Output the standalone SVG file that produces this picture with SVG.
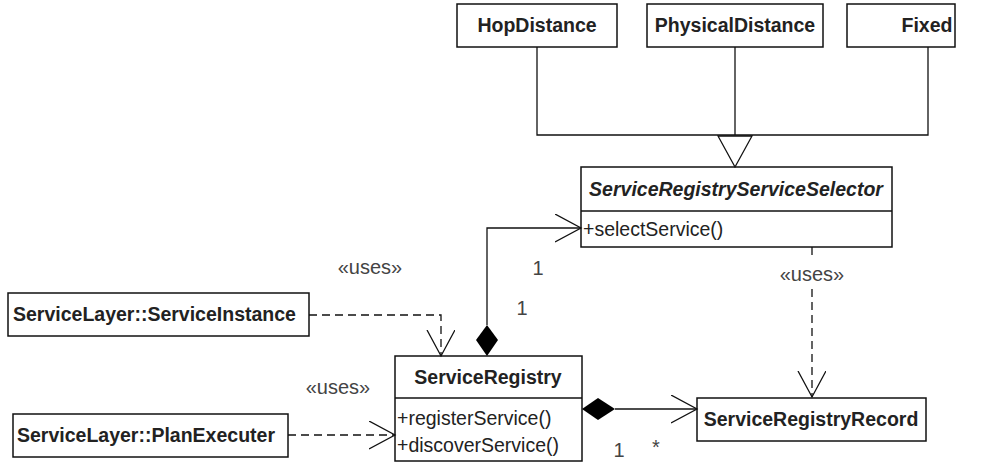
<svg xmlns="http://www.w3.org/2000/svg" width="997" height="462" viewBox="0 0 997 462">
<defs>
<style>
.box{fill:#fff;stroke:#111;stroke-width:1.5}
.t{font-family:"Liberation Sans",Arial,sans-serif;font-size:19.5px;fill:#222}
.b{font-weight:bold}
.c{text-anchor:middle}
.ln{fill:none;stroke:#111;stroke-width:1.3}
.dash{fill:none;stroke:#111;stroke-width:1.3;stroke-dasharray:8,5}
.lbl{font-family:"Liberation Sans",Arial,sans-serif;font-size:20px;fill:#444}
</style>
<marker id="open" markerWidth="30" markerHeight="30" refX="26" refY="14" orient="auto" markerUnits="userSpaceOnUse">
<path d="M0,0 L26,14 L0,28" fill="none" stroke="#111" stroke-width="1.3"/>
</marker>
</defs>
<rect width="997" height="462" fill="#fff"/>

<g id="HopDistance">
<rect class="box" x="457" y="4" width="160" height="43"/>
<text class="t b c" x="537" y="32">HopDistance</text>
</g>
<g id="PhysicalDistance">
<rect class="box" x="647" y="4" width="176" height="43"/>
<text class="t b c" x="735" y="32">PhysicalDistance</text>
</g>
<g id="Fixed">
<rect class="box" x="847" y="4" width="108" height="43"/>
<text class="t b c" x="927" y="32">Fixed</text>
</g>
<g id="ServiceRegistryServiceSelector">
<rect class="box" x="581" y="167" width="311" height="80"/>
<line class="ln" x1="581" y1="211" x2="892" y2="211"/>
<text class="t b c" x="736" y="196" font-style="italic">ServiceRegistryServiceSelector</text>
<text class="t" x="583" y="236">+selectService()</text>
</g>
<g id="ServiceInstance">
<rect class="box" x="8" y="293" width="301" height="43"/>
<text class="t b" x="13" y="321">ServiceLayer::ServiceInstance</text>
</g>
<g id="PlanExecuter">
<rect class="box" x="13" y="414" width="275" height="43"/>
<text class="t b" x="17" y="442">ServiceLayer::PlanExecuter</text>
</g>
<g id="ServiceRegistry">
<rect class="box" x="395" y="356" width="187" height="105"/>
<line class="ln" x1="395" y1="398" x2="582" y2="398"/>
<text class="t b c" x="488" y="384">ServiceRegistry</text>
<text class="t" x="397" y="425">+registerService()</text>
<text class="t" x="397" y="452">+discoverService()</text>
</g>
<g id="ServiceRegistryRecord">
<rect class="box" x="697" y="398" width="229" height="43"/>
<text class="t b c" x="811" y="426">ServiceRegistryRecord</text>
</g>

<g id="connectors">
<polyline class="ln" points="537,47 537,135 928,135 928,47"/>
<line class="ln" x1="735" y1="47" x2="735" y2="135"/>
<polygon points="718,136 752,136 735,167" fill="#fff" stroke="#111" stroke-width="1.3"/>
<polyline class="ln" points="487,325 487,228 581,228" marker-end="url(#open)"/>
<polygon points="487,325 498,340 487,356 476,340" fill="#000"/>
<text class="lbl" x="538" y="275" text-anchor="middle">1</text>
<text class="lbl" x="522" y="315" text-anchor="middle">1</text>
<line class="ln" x1="615" y1="409" x2="697" y2="409" marker-end="url(#open)"/>
<polygon points="582,409 598,398 615,409 598,420" fill="#000"/>
<text class="lbl" x="619" y="457" text-anchor="middle">1</text>
<text class="lbl" x="656" y="454" text-anchor="middle">*</text>
<line class="dash" x1="812" y1="247" x2="812" y2="259"/>
<line class="dash" x1="812" y1="289" x2="812" y2="397" marker-end="url(#open)"/>
<text class="lbl" x="812" y="281" text-anchor="middle">«uses»</text>
<polyline class="dash" points="309,315 441,315 441,356" marker-end="url(#open)"/>
<text class="lbl" x="370" y="274" text-anchor="middle">«uses»</text>
<line class="dash" x1="288" y1="435" x2="395" y2="435" marker-end="url(#open)"/>
<text class="lbl" x="338" y="394" text-anchor="middle">«uses»</text>
</g>
</svg>
